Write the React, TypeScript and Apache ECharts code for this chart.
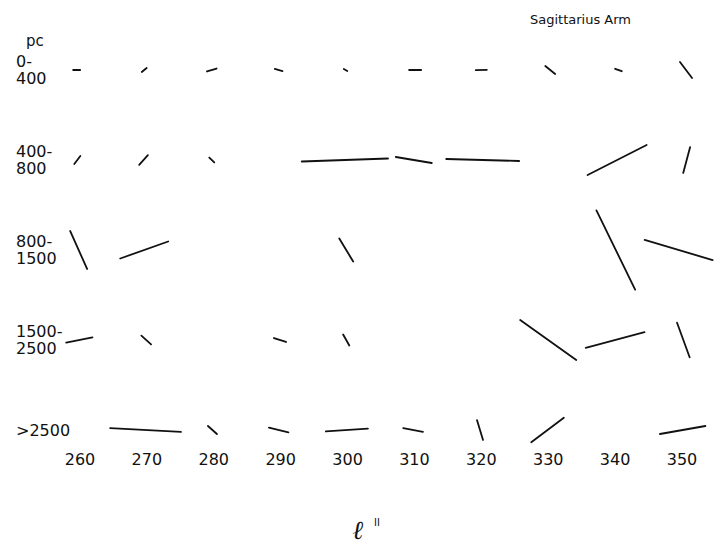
import React, { useEffect, useRef } from "react";
import * as echarts from "echarts";

// Distance bins (rows, top to bottom)
const rowLabels = ["0-\n400", "400-\n800", "800-\n1500", "1500-\n2500", ">2500"];
// Galactic longitude tick labels
const lonTicks = [260, 270, 280, 290, 300, 310, 320, 330, 340, 350];

// Polarization vectors: centre longitude, row index, length (deg of longitude), angle (deg from horizontal)
const segLon = [
  259.5, 269.6, 279.7, 289.7, 299.7, 310.1, 320.0, 330.3, 340.5, 350.6,
  259.6, 269.5, 279.7, 299.6, 309.9, 320.2, 340.3, 350.7,
  259.8, 269.6, 299.8, 340.1, 349.5,
  259.9, 269.9, 289.9, 299.8, 330.0, 340.0, 350.2,
  269.8, 279.8, 289.7, 299.9, 309.8, 319.8, 329.9, 350.1,
];
const segRow = [
  0, 0, 0, 0, 0, 0, 0, 0, 0, 0,
  1, 1, 1, 1, 1, 1, 1, 1,
  2, 2, 2, 2, 2,
  3, 3, 3, 3, 3, 3, 3,
  4, 4, 4, 4, 4, 4, 4, 4,
];
const segLen = [
  1.05, 0.95, 1.5, 1.2, 0.6, 1.8, 1.65, 1.9, 1.05, 3.0,
  1.5, 1.95, 1.05, 12.9, 5.45, 10.9, 9.9, 4.0,
  6.2, 7.6, 4.0, 13.2, 10.6,
  4.0, 1.95, 1.9, 1.9, 10.3, 9.1, 5.5,
  10.6, 1.8, 3.0, 6.3, 3.0, 3.1, 6.1, 6.9,
];
const segAngle = [
  0, 40, 17, -15, -30, 0, 2, -39, -20, -53,
  53, 48, -45, 2, -9.5, -1.6, 27, 75,
  -66, 19.5, -58.7, -64, -16.5,
  11, -42, -18, -61, -35.5, 15, -70,
  -3, -42, -14, 4, -11, -73, 37, 10,
];

const FONT = "DejaVu Sans";

export default function App() {
  const ref = useRef<HTMLDivElement>(null);

  useEffect(() => {
    if (!ref.current) return;
    const chart = echarts.init(ref.current, undefined, { renderer: "svg" });
    const data = segLon.map((l, i) => [l, segRow[i], segLen[i], segAngle[i]]);

    chart.setOption({
      animation: false,
      backgroundColor: "#ffffff",
      title: {
        text: "Sagittarius Arm",
        left: 525,
        top: 8,
        textStyle: { fontFamily: FONT, fontSize: 13, fontWeight: "normal", color: "#111" },
      },
      grid: { left: 80, right: 35, top: 70, bottom: 114, containLabel: false, outerBoundsMode: "none" },
      xAxis: {
        type: "value",
        min: 260,
        max: 350,
        interval: 10,
        axisLine: { show: false },
        axisTick: { show: false },
        splitLine: { show: false },
        axisLabel: {
          margin: 21,
          fontFamily: FONT,
          fontSize: 16,
          color: "#111",
          formatter: (v: number) => (lonTicks.includes(v) ? String(v) : ""),
        },
        name: "{l|ℓ}{s|II}",
        nameLocation: "middle",
        nameGap: 87,
        nameTextStyle: {
          padding: [0, 30, 0, 0],
          rich: {
            l: { fontFamily: "DejaVu Serif", fontStyle: "italic", fontSize: 26, color: "#111" },
            s: { fontFamily: FONT, fontSize: 10, color: "#111", verticalAlign: "top", padding: [0, 0, 16, 11] },
          },
        },
      },
      yAxis: {
        type: "value",
        min: 0,
        max: 4,
        interval: 1,
        inverse: true,
        axisLine: { show: false },
        axisTick: { show: false },
        splitLine: { show: false },
        axisLabel: {
          align: "left",
          margin: 64,
          fontFamily: FONT,
          fontSize: 16,
          lineHeight: 17,
          color: "#111",
          formatter: (v: number) => rowLabels[v] ?? "",
        },
      },
      graphic: [
        {
          type: "text",
          left: 26,
          top: 33,
          style: { text: "pc", fontFamily: FONT, fontSize: 15, fill: "#111" },
        },
      ],
      series: [
        {
          type: "custom",
          clip: false,
          encode: { x: 0, y: 1 },
          data,
          renderItem: (params: any, api: any) => {
            const l = api.value(0);
            const r = api.value(1);
            const len = api.value(2);
            const ang = (api.value(3) * Math.PI) / 180;
            const c = api.coord([l, r]);
            const half = api.size([len, 0])[0] / 2;
            const dx = half * Math.cos(ang);
            const dy = half * Math.sin(ang);
            return {
              type: "line",
              shape: { x1: c[0] - dx, y1: c[1] + dy, x2: c[0] + dx, y2: c[1] - dy },
              style: { stroke: "#111", lineWidth: 1.8, lineCap: "round" },
            };
          },
        },
      ],
    });

    return () => chart.dispose();
  }, []);

  return (
    <div
      ref={ref}
      style={{ position: "fixed", left: 0, top: 0, width: 717, height: 544 }}
    />
  );
}
